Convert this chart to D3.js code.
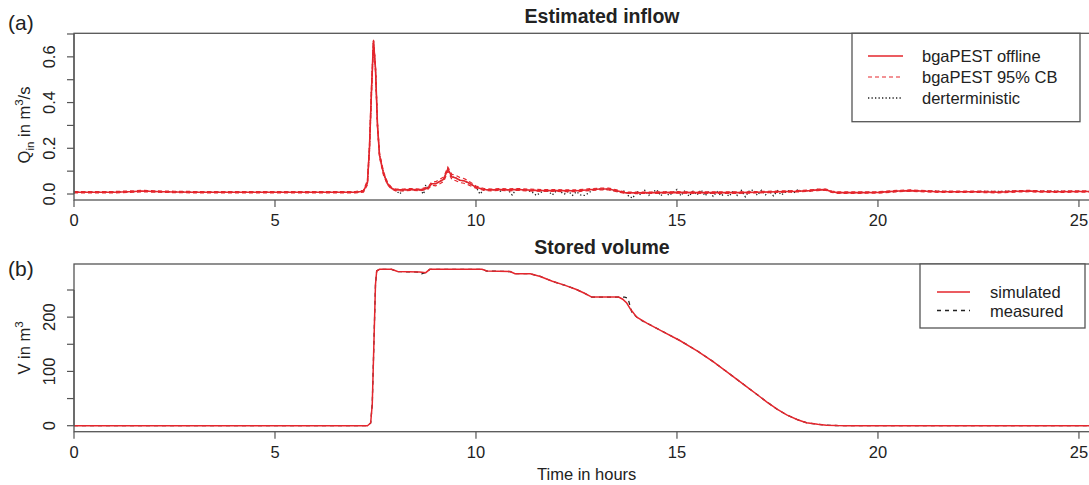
<!DOCTYPE html>
<html><head><meta charset="utf-8">
<script src="https://cdn.jsdelivr.net/npm/d3@7"></script>
<style>
body{margin:0;background:#fff}
svg{display:block;font-family:"Liberation Sans",Arial,Helvetica,sans-serif}
</style>
</head><body>
<svg id="c" width="1089" height="485"></svg>
<script>
// ---------- Panel (a): estimated inflow ----------
const inflowTime = [0,0.5,1.0,1.5,1.7,2.0,2.5,3,3.5,4,4.5,5,5.5,6,6.5,7.0,7.2,7.3,7.35,7.4,7.45,7.5,7.55,7.6,7.7,7.8,7.9,8.0,8.2,8.4,8.6,8.8,8.9,9.0,9.1,9.2,9.3,9.4,9.5,9.6,9.7,9.8,9.9,10.0,10.2,10.4,10.6,10.8,11.0,11.5,12.0,12.5,12.9,13.1,13.3,13.5,13.7,14,14.5,15,15.5,16,16.5,17,17.5,18,18.3,18.5,18.7,18.85,19,19.5,20,20.5,20.8,21.2,21.5,22,22.5,23,23.5,23.8,24,24.5,25,25.5,26.3];
const inflowOffline = [.008,.008,.008,.011,.013,.011,.009,.008,.008,.008,.008,.008,.008,.008,.008,.008,.012,.05,.2,.45,.67,.55,.3,.17,.09,.045,.025,.018,.018,.02,.018,.025,.045,.045,.055,.065,.11,.075,.07,.06,.058,.05,.04,.03,.02,.018,.02,.018,.02,.016,.015,.014,.02,.022,.022,.014,.006,.005,.006,.007,.006,.006,.006,.008,.01,.012,.015,.018,.019,.01,.006,.006,.007,.013,.015,.012,.01,.01,.01,.008,.012,.013,.011,.01,.011,.011,.011];
const inflowLower = [.005,.005,.005,.008,.010,.008,.006,.005,.005,.005,.005,.005,.005,.005,.005,.005,.008,.04,.185,.43,.655,.535,.285,.16,.082,.04,.021,.014,.014,.016,.014,.02,.038,.036,.045,.055,.1,.064,.058,.05,.047,.041,.033,.025,.016,.014,.016,.014,.016,.012,.011,.01,.016,.018,.018,.01,.003,.002,.003,.004,.003,.003,.003,.005,.007,.009,.012,.015,.016,.007,.003,.003,.004,.01,.012,.009,.007,.007,.007,.005,.009,.01,.008,.007,.008,.008,.008];
const inflowUpper = [.011,.011,.011,.014,.016,.014,.012,.011,.011,.011,.011,.011,.011,.011,.011,.011,.016,.06,.215,.47,.675,.565,.315,.18,.098,.05,.029,.022,.022,.024,.022,.03,.052,.054,.065,.075,.118,.086,.082,.072,.068,.059,.047,.035,.024,.022,.024,.022,.024,.02,.019,.018,.024,.026,.026,.018,.009,.008,.009,.01,.009,.009,.009,.011,.013,.015,.018,.021,.022,.013,.009,.009,.01,.016,.018,.015,.013,.013,.013,.011,.015,.016,.014,.013,.014,.014,.014];

const detTime = [0,1,1.7,3,5,7.0,7.2,7.3,7.35,7.4,7.45,7.5,7.55,7.6,7.7,7.8,7.9,8.0,8.1,8.2,8.4,8.6,8.7,8.75,8.8,8.9,9.0,9.1,9.2,9.3,9.4,9.5,9.6,9.7,9.8,9.9,10.0,10.1,10.2,10.3,
 10.4,10.5,10.6,10.7,10.8,10.9,11.0,11.1,11.2,11.3,11.4,11.5,11.6,11.7,11.8,11.9,12.0,12.1,12.2,12.3,12.4,12.5,12.6,12.7,12.8,12.9,13.0,13.1,13.2,13.3,13.4,13.5,13.6,13.7,13.8,13.9,14.0,14.1,14.2,14.3,14.4,14.5,14.6,14.7,14.8,14.9,15.0,15.1,15.2,15.3,15.4,15.5,15.6,15.7,15.8,15.9,16.0,16.1,16.2,16.3,16.4,16.5,16.6,16.7,16.8,16.9,17.0,17.1,17.2,17.3,17.4,17.5,17.6,17.7,17.8,17.9,18.0,18.1,18.2,18.3,18.4,18.5,18.6,18.7,18.8,
 19,20,20.8,22,23.8,25.3,26.3];
const detValue = [.008,.008,.012,.008,.008,.008,.012,.05,.2,.45,.67,.55,.3,.17,.09,.045,.025,.018,.0,.018,.02,.018,.0,.04,.025,.045,.045,.055,.065,.11,.075,.07,.06,.058,.05,.04,.03,.0,.02,.018,
 .018,.02,.012,.02,.018,-.004,.02,.018,.02,.015,.008,-.006,.005,.016,.012,-.004,.014,.01,.0,.012,-.006,.01,-.004,-.006,.004,.018,.022,.022,.022,.02,.016,.012,.008,.014,-.01,-.018,.012,-.004,.016,-.006,.01,.018,-.008,.014,-.006,.006,.02,-.008,.016,-.01,.012,-.004,.018,-.008,.012,-.01,.01,-.008,.004,-.01,.014,-.006,.016,-.012,.014,.018,-.006,.016,-.004,.012,-.008,.014,-.004,.008,.016,.004,.018,.01,.016,.012,.018,.02,.018,.02,.012,
 .006,.007,.015,.01,.013,.011,.011];

// ---------- Panel (b): stored volume ----------
const volTime = [0,7.0,7.3,7.38,7.42,7.46,7.5,7.53,7.6,7.9,8.05,8.6,8.75,8.85,10.15,10.27,10.85,10.97,11.35,11.6,11.9,12.2,12.5,12.7,12.88,13.55,13.65,13.75,13.85,14.0,14.25,14.66,15.07,15.5,15.9,16.3,16.73,17.0,17.23,17.5,17.73,18.0,18.22,18.5,18.72,19.0,19.2,26.3];
const volSimulated = [0,0,0,5,40,150,260,285,288,288,284,283,282,288,288,285,284,280,280,275,266,259,251,244,237,237,233,226,214,200,189,173,157,138,118,96,72,57,44,30,19.8,11,5.6,2.5,1.0,0.2,0,0];
const measTime = [0,7.0,7.3,7.38,7.42,7.46,7.5,7.53,7.6,7.9,8.05,8.6,8.65,8.75,8.85,10.15,10.27,10.85,10.97,11.35,11.6,11.9,12.2,12.5,12.7,12.88,13.55,13.7,13.78,13.88,14.08,14.25,14.66,15.07,15.5,15.9,16.3,16.73,17.0,17.23,17.5,17.73,18.0,18.22,18.5,18.72,19.0,19.2,26.3];
const volMeasured = [0,0,0,5,40,150,260,285,288,288,284,283,280,282,288,288,285,284,280,280,275,266,259,251,244,237,237,237,235,208,195,189,173,157,138,118,96,72,57,44,30,19.8,11,5.6,2.5,1.0,0.2,0,0];

const xTicks = [0,5,10,15,20,25];
const inflowTicks = [0,0.1,0.2,0.3,0.4,0.5,0.6,0.7];
const inflowTickLabels = ["0.0","","0.2","","0.4","","0.6",""];
const volTicks = [0,50,100,150,200,250];
const volTickLabels = ["0","","100","","200",""];

// ---------- drawing ----------
const RED = "#e5262d", AX = "#555", TXT = "#222";
const svg = d3.select("#c");
svg.append("rect").attr("width",1089).attr("height",485).attr("fill","#fff");

const L = 74, R = 1130;
const x = d3.scaleLinear().domain([0, 26.27]).range([L, R]);

function panel(cfg){
  const y = d3.scaleLinear().domain(cfg.ydom).range([cfg.bottom, cfg.top]);
  const id = "clip" + cfg.key;
  svg.append("clipPath").attr("id", id).append("rect")
    .attr("x", L).attr("y", cfg.top).attr("width", R - L).attr("height", cfg.bottom - cfg.top);
  const g = svg.append("g").attr("clip-path", `url(#${id})`);
  cfg.draw(g, y);
  svg.append("rect").attr("x", L).attr("y", cfg.top).attr("width", R - L).attr("height", cfg.bottom - cfg.top)
    .attr("fill","none").attr("stroke", AX).attr("stroke-width", 1.3);
  const xa = svg.append("g");
  xTicks.forEach(t => {
    xa.append("line").attr("x1", x(t)).attr("x2", x(t)).attr("y1", cfg.bottom).attr("y2", cfg.bottom + 7)
      .attr("stroke", AX).attr("stroke-width", 1.2);
    xa.append("text").attr("x", x(t)).attr("y", cfg.bottom + 26).attr("text-anchor","middle")
      .attr("font-size", 16.5).attr("fill", TXT).text(t);
  });
  const ya = svg.append("g");
  cfg.yticks.forEach((t,i) => {
    ya.append("line").attr("x1", L - 7).attr("x2", L).attr("y1", y(t)).attr("y2", y(t))
      .attr("stroke", AX).attr("stroke-width", 1.2);
    if (cfg.ylabels[i]) ya.append("text").attr("transform", `translate(55,${y(t)}) rotate(-90)`)
      .attr("text-anchor","middle").attr("font-size", 16.5).attr("fill", TXT).text(cfg.ylabels[i]);
  });
  svg.append("line").attr("x1", L).attr("x2", L).attr("y1", y(cfg.yticks[0])).attr("y2", y(cfg.yticks[cfg.yticks.length-1]))
    .attr("stroke", AX).attr("stroke-width", 1.2);
  svg.append("text").attr("x", 602).attr("y", cfg.top - 10).attr("text-anchor","middle")
    .attr("font-size", 19.5).attr("font-weight","bold").attr("fill", TXT).text(cfg.title);
  svg.append("text").attr("x", 8).attr("y", cfg.tagY).attr("font-size", 21).attr("fill", TXT).text(cfg.tag);
  return y;
}

function mkLine(xs, ys, y){
  return d3.line().x((d,i) => x(xs[i])).y((d,i) => y(ys[i]))(ys);
}

panel({
  key:"a", top:33.3, bottom:200, ydom:[-0.0262, 0.703], yticks:inflowTicks, ylabels:inflowTickLabels,
  title:"Estimated inflow", tag:"(a)", tagY:30,
  draw:(g,y) => {
    g.append("path").attr("d", mkLine(detTime, detValue, y)).attr("fill","none")
      .attr("stroke","#222").attr("stroke-width",1.3).attr("stroke-dasharray","1.3,2.2");
    g.append("path").attr("d", mkLine(inflowTime, inflowOffline, y)).attr("fill","none")
      .attr("stroke",RED).attr("stroke-width",1.6);
    [inflowLower, inflowUpper].forEach(arr => g.append("path").attr("d", mkLine(inflowTime, arr, y))
      .attr("fill","none").attr("stroke",RED).attr("stroke-width",1.2).attr("stroke-dasharray","4,3"));
  }
});

panel({
  key:"b", top:264, bottom:431.7, ydom:[-11.05, 297.9], yticks:volTicks, ylabels:volTickLabels,
  title:"Stored volume", tag:"(b)", tagY:276,
  draw:(g,y) => {
    g.append("path").attr("d", mkLine(measTime, volMeasured, y)).attr("fill","none")
      .attr("stroke","#222").attr("stroke-width",1.3).attr("stroke-dasharray","4,4");
    g.append("path").attr("d", mkLine(volTime, volSimulated, y)).attr("fill","none")
      .attr("stroke",RED).attr("stroke-width",1.5);
  }
});

const qLab = svg.append("text").attr("transform","translate(30,125) rotate(-90)").attr("text-anchor","middle")
  .attr("font-size",16.5).attr("fill",TXT);
qLab.append("tspan").text("Q");
qLab.append("tspan").attr("font-size",11.5).attr("dy",4).text("in");
qLab.append("tspan").attr("dy",-4).text(" in m");
qLab.append("tspan").attr("font-size",11.5).attr("dy",-7).text("3");
qLab.append("tspan").attr("dy",7).text("/s");

const vLab = svg.append("text").attr("transform","translate(29.5,348) rotate(-90)").attr("text-anchor","middle")
  .attr("font-size",16.5).attr("fill",TXT);
vLab.append("tspan").text("V in m");
vLab.append("tspan").attr("font-size",11.5).attr("dy",-7).text("3");

svg.append("text").attr("x",586.7).attr("y",480).attr("text-anchor","middle").attr("font-size",16.5)
  .attr("fill",TXT).text("Time in hours");

const legA = svg.append("g");
legA.append("rect").attr("x",852).attr("y",33.3).attr("width",228).attr("height",88.4)
  .attr("fill","#fff").attr("stroke",AX).attr("stroke-width",1.3);
const legAItems = [
  {label:"bgaPEST offline", color:RED, dash:null, w:1.6},
  {label:"bgaPEST 95% CB", color:RED, dash:"4,3", w:1.2},
  {label:"derterministic", color:"#222", dash:"1.3,2.2", w:1.3}
];
legAItems.forEach((d,i) => {
  const yy = 56 + i*21;
  legA.append("line").attr("x1",868).attr("x2",903).attr("y1",yy).attr("y2",yy)
    .attr("stroke",d.color).attr("stroke-width",d.w).attr("stroke-dasharray",d.dash);
  legA.append("text").attr("x",922).attr("y",yy+6).attr("font-size",16.5).attr("fill",TXT).text(d.label);
});

const legB = svg.append("g");
legB.append("rect").attr("x",920).attr("y",264).attr("width",165).attr("height",64)
  .attr("fill","#fff").attr("stroke",AX).attr("stroke-width",1.3);
const legBItems = [
  {label:"simulated", color:RED, dash:null, w:1.5},
  {label:"measured", color:"#222", dash:"4,4", w:1.3}
];
legBItems.forEach((d,i) => {
  const yy = 292 + i*18.5;
  legB.append("line").attr("x1",937).attr("x2",970).attr("y1",yy).attr("y2",yy)
    .attr("stroke",d.color).attr("stroke-width",d.w).attr("stroke-dasharray",d.dash);
  legB.append("text").attr("x",990).attr("y",yy+6).attr("font-size",16.5).attr("fill",TXT).text(d.label);
});
</script>
</body></html>
